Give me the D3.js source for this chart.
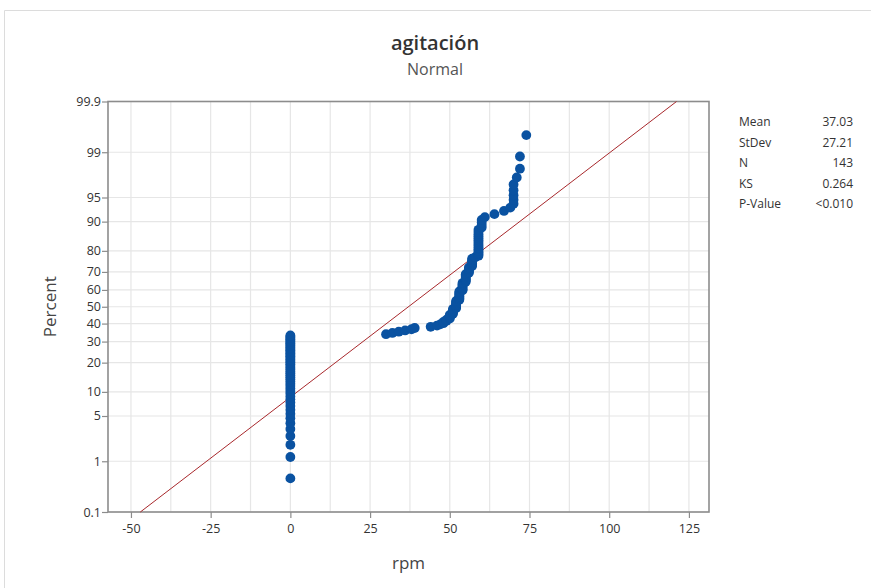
<!DOCTYPE html>
<html>
<head>
<meta charset="utf-8">
<script src="https://cdn.jsdelivr.net/npm/d3@7"></script>
<style>
  body { margin: 0; background: #fff; }
  text { font-family: "Open Sans", "Noto Sans", sans-serif; }
</style>
</head>
<body>
<script>
var w = 871;
var h = 588;

// rpm readings, sorted (48 zeros first)
var zeros = [0,0,0,0,0,0,0,0,0,0,0,0,0,0,0,0,0,0,0,0,0,0,0,0,
  0,0,0,0,0,0,0,0,0,0,0,0,0,0,0,0,0,0,0,0,0,0,0,0];
var rpm = [30, 32, 34, 36, 38, 39,
  44, 46, 47, 48, 48, 49, 49,
  50, 50, 50, 50, 51, 51, 51, 51, 51,
  52, 52, 52, 52, 52, 52, 52,
  53, 53, 53, 53, 53, 53, 53, 53,
  54, 54, 54, 54, 54, 54, 54,
  55, 55, 55, 55, 55, 55, 55,
  56, 56, 56, 56, 56,
  57, 57, 57, 57, 57, 57, 58,
  59, 59, 59, 59, 59, 59, 59, 59, 59, 59, 59, 59, 59, 59, 59,
  60, 60, 60, 60,
  61, 64, 67, 69, 70, 70, 70, 70, 70, 71, 72, 72, 74];
var values = zeros.concat(rpm);

var statLabels = ["Mean", "StDev", "N", "KS", "P-Value"];
var statValues = ["37.03", "27.21", "143", "0.264", "<0.010"];
var fitMean = 37.03;
var fitSd = 27.21;

var xTicks = [-50, -25, 0, 25, 50, 75, 100, 125];
var xGrid = d3.range(-50, 125.1, 12.5);
var pctTicks = [0.1, 1, 5, 10, 20, 30, 40, 50, 60, 70, 80, 90, 95, 99, 99.9];

// inverse normal cdf (Acklam)
function probit(p) {
  var a = [-39.69683028665376, 220.9460984245205, -275.9285104469687, 138.3577518672690, -30.66479806614716, 2.506628277459239];
  var b = [-54.47609879822406, 161.5858368580409, -155.6989798598866, 66.80131188771972, -13.28068155288572];
  var c = [-0.007784894002430293, -0.3223964580411365, -2.400758277161838, -2.549732539343734, 4.374664141464968, 2.938163982698783];
  var d = [0.007784695709041462, 0.3224671290700398, 2.445134137142996, 3.754408661907416];
  var q, r;
  if (p < 0.02425) {
    q = Math.sqrt(-2 * Math.log(p));
    return (((((c[0]*q+c[1])*q+c[2])*q+c[3])*q+c[4])*q+c[5]) / ((((d[0]*q+d[1])*q+d[2])*q+d[3])*q+1);
  }
  if (p > 1 - 0.02425) {
    q = Math.sqrt(-2 * Math.log(1 - p));
    return -(((((c[0]*q+c[1])*q+c[2])*q+c[3])*q+c[4])*q+c[5]) / ((((d[0]*q+d[1])*q+d[2])*q+d[3])*q+1);
  }
  q = p - 0.5;
  r = q * q;
  return (((((a[0]*r+a[1])*r+a[2])*r+a[3])*r+a[4])*r+a[5])*q / (((((b[0]*r+b[1])*r+b[2])*r+b[3])*r+b[4])*r+1);
}

var pLeft = 108, pRight = 709, pTop = 101.5, pBottom = 512;

var x = d3.scaleLinear().domain([-57.2, 131.3]).range([pLeft, pRight]);
var y = d3.scaleLinear().domain([probit(0.001), probit(0.999)]).range([pBottom, pTop]);

var n = values.length;
var points = values.map(function(v, i) {
  return { x: v, z: probit((i + 1 - 0.3) / (n + 0.4)) };
});

var svg = d3.select("body")
  .append("svg")
  .attr("width", w)
  .attr("height", h);

// outer panel frame
svg.append("path")
  .attr("d", "M4.5," + h + "V10.5H" + w)
  .attr("fill", "none")
  .attr("stroke", "#dcdcdc")
  .attr("stroke-width", 1);

// grid
svg.append("g").selectAll("line")
  .data(xGrid)
  .enter()
  .append("line")
  .attr("x1", function(d) { return x(d); })
  .attr("x2", function(d) { return x(d); })
  .attr("y1", pTop)
  .attr("y2", pBottom)
  .attr("stroke", "#e6e6e6")
  .attr("stroke-width", 1.2);

svg.append("g").selectAll("line")
  .data(pctTicks)
  .enter()
  .append("line")
  .attr("x1", pLeft)
  .attr("x2", pRight)
  .attr("y1", function(d) { return y(probit(d / 100)); })
  .attr("y2", function(d) { return y(probit(d / 100)); })
  .attr("stroke", "#e6e6e6")
  .attr("stroke-width", 1.2);

// axes
var yAxis = d3.axisLeft(y)
  .tickValues(pctTicks.map(function(p) { return probit(p / 100); }))
  .tickFormat(function(d, i) { return String(pctTicks[i]); })
  .tickSize(6)
  .tickSizeOuter(0);

var xAxis = d3.axisBottom(x)
  .tickValues(xTicks)
  .tickFormat(function(d) { return String(d); })
  .tickSize(6)
  .tickSizeOuter(0);

var gy = svg.append("g").attr("transform", "translate(" + pLeft + ",0)").call(yAxis);
var gx = svg.append("g").attr("transform", "translate(0," + pBottom + ")").call(xAxis);

[gx, gy].forEach(function(g) {
  g.select(".domain").remove();
  g.selectAll(".tick line").attr("stroke", "#8c8c8c").attr("stroke-width", 1.2);
  g.selectAll(".tick text")
    .attr("font-size", "12.5px")
    .attr("fill", "#333")
    .attr("font-family", "'Open Sans', sans-serif");
});
gy.selectAll(".tick text").attr("x", -7);
gx.selectAll(".tick text").attr("y", 12);

// plot border
svg.append("rect")
  .attr("x", pLeft)
  .attr("y", pTop)
  .attr("width", pRight - pLeft)
  .attr("height", pBottom - pTop)
  .attr("fill", "none")
  .attr("stroke", "#8c8c8c")
  .attr("stroke-width", 1.6);

// fitted line
var fitLine = d3.line()
  .x(function(d) { return x(fitMean + fitSd * d); })
  .y(function(d) { return y(d); });

svg.append("path")
  .datum([probit(0.001), probit(0.999)])
  .attr("d", fitLine)
  .attr("fill", "none")
  .attr("stroke", "#a8282c")
  .attr("stroke-width", 1);

// data points
svg.append("g").selectAll("circle")
  .data(points)
  .enter()
  .append("circle")
  .attr("cx", function(d) { return x(d.x); })
  .attr("cy", function(d) { return y(d.z); })
  .attr("r", 4.9)
  .attr("fill", "#0a52a1");

// titles
svg.append("text")
  .text("agitación")
  .attr("x", 435)
  .attr("y", 50)
  .attr("text-anchor", "middle")
  .attr("font-size", "20px")
  .attr("font-weight", 600)
  .attr("fill", "#333");

svg.append("text")
  .text("Normal")
  .attr("x", 435)
  .attr("y", 75)
  .attr("text-anchor", "middle")
  .attr("font-size", "16px")
  .attr("fill", "#555");

svg.append("text")
  .text("rpm")
  .attr("x", (pLeft + pRight) / 2)
  .attr("y", 569)
  .attr("text-anchor", "middle")
  .attr("font-size", "17px")
  .attr("fill", "#444");

svg.append("text")
  .text("Percent")
  .attr("transform", "translate(56," + ((pTop + pBottom) / 2) + ") rotate(-90)")
  .attr("text-anchor", "middle")
  .attr("font-size", "17px")
  .attr("fill", "#444");

// stats table
var stats = svg.append("g");
stats.selectAll(".lab")
  .data(statLabels)
  .enter()
  .append("text")
  .attr("class", "lab")
  .text(function(d) { return d; })
  .attr("x", 739)
  .attr("y", function(d, i) { return 126 + i * 20.6; })
  .attr("font-size", "12px")
  .attr("fill", "#333");

stats.selectAll(".val")
  .data(statValues)
  .enter()
  .append("text")
  .attr("class", "val")
  .text(function(d) { return d; })
  .attr("x", 853)
  .attr("y", function(d, i) { return 126 + i * 20.6; })
  .attr("text-anchor", "end")
  .attr("font-size", "12px")
  .attr("fill", "#333");
</script>
</body>
</html>
